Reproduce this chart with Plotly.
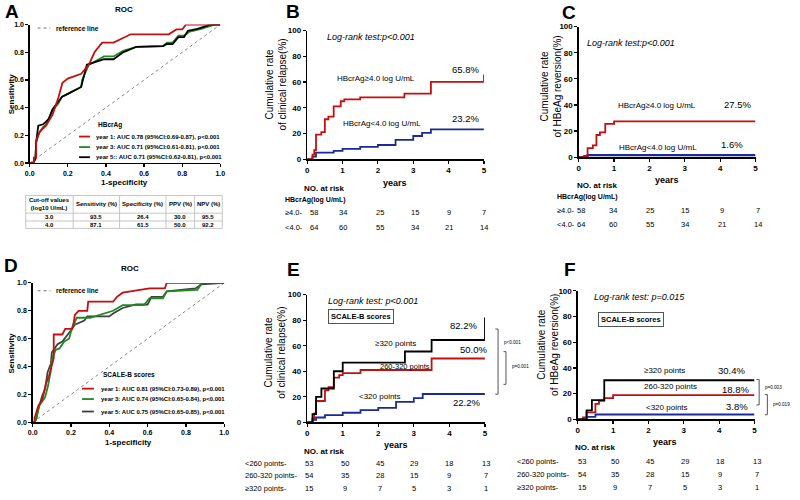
import plotly.graph_objects as go

W, H = 800, 500
FONT = "Arial, Liberation Sans, Helvetica, sans-serif"
RED = "#c01010"
GREEN = "#1f8a1f"
BLUE = "#1c2a98"
DARK = "#404040"

# ---------------- DATA ----------------
# Panel A: ROC (HBcrAg)
A_y1_fpr = [0, 0.017, 0.022, 0.022, 0.034, 0.034, 0.05, 0.07, 0.086, 0.12, 0.15, 0.172, 0.2, 0.27, 0.31, 0.34, 0.38, 0.44, 0.53, 0.73, 0.77, 0.80, 0.82, 1.0]
A_y1_sen = [0, 0, 0, 0.04, 0.04, 0.16, 0.22, 0.25, 0.27, 0.35, 0.47, 0.58, 0.61, 0.645, 0.71, 0.80, 0.87, 0.87, 0.93, 0.93, 0.965, 0.965, 1.0, 1.0]
A_y3_fpr = [0, 0.017, 0.03, 0.034, 0.05, 0.07, 0.086, 0.1, 0.12, 0.15, 0.17, 0.2, 0.27, 0.275, 0.31, 0.39, 0.44, 0.49, 0.56, 0.7, 0.72, 0.75, 0.78, 0.81, 0.84, 0.9, 0.97, 1.0]
A_y3_sen = [0, 0, 0.03, 0.15, 0.22, 0.26, 0.28, 0.32, 0.38, 0.43, 0.48, 0.5, 0.55, 0.6, 0.71, 0.77, 0.77, 0.81, 0.84, 0.845, 0.87, 0.87, 0.92, 0.92, 0.95, 0.97, 1.0, 1.0]
A_y5_fpr = [0, 0.017, 0.03, 0.034, 0.045, 0.07, 0.086, 0.1, 0.12, 0.15, 0.17, 0.2, 0.26, 0.27, 0.3, 0.39, 0.44, 0.49, 0.56, 0.7, 0.72, 0.75, 0.78, 0.81, 0.83, 0.88, 0.95, 1.0]
A_y5_sen = [0, 0, 0.03, 0.15, 0.27, 0.28, 0.30, 0.32, 0.39, 0.44, 0.48, 0.5, 0.54, 0.55, 0.71, 0.75, 0.75, 0.80, 0.84, 0.845, 0.86, 0.86, 0.91, 0.91, 0.955, 0.97, 1.0, 1.0]
A_legend = ["year 1: AUC 0.78 (95%CI:0.69-0.87), p<0.001",
            "year 3: AUC 0.71 (95%CI:0.61-0.81), p<0.001",
            "year 5:: AUC 0.71 (95%CI:0.62-0.81), p<0.001"]

# Table under A
table_header = ["Cut-off values<br>(log10 U/mL)", "Sensitivity (%)", "Specificity (%)", "PPV (%)", "NPV (%)"]
table_rows = [["3.0", "93.5", "26.4", "30.0", "95.5"],
              ["4.0", "87.1", "61.5", "50.0", "92.2"]]

# Panel B: clinical relapse by HBcrAg
B_hi_t = [0, 0.15, 0.2, 0.25, 0.4, 0.5, 0.6, 0.75, 0.95, 1.05, 1.5, 2.75, 3.5, 5]
B_hi_y = [0, 3.5, 7, 19, 21, 31, 33, 41, 45, 46.5, 48, 51, 60, 65.8]
B_lo_t = [0, 0.15, 0.25, 0.75, 1.0, 1.5, 2.0, 2.5, 3.0, 3.25, 3.5, 5]
B_lo_y = [0, 2, 5, 6.5, 8, 9.5, 11, 15, 18, 20.5, 23.2, 23.2]

# Panel C: HBeAg reversion by HBcrAg
C_hi_t = [0, 0.15, 0.25, 0.4, 0.5, 0.6, 0.75, 1.0, 5]
C_hi_y = [0, 1, 7, 9, 17, 19, 25.5, 27.5, 27.5]
C_lo_t = [0, 0.25, 5]
C_lo_y = [0, 1.6, 1.6]

risk_groups_BC = ["\u22654.0-", "<4.0-"]
risk_BC_hi = [58, 34, 25, 15, 9, 7]
risk_BC_lo = [64, 60, 55, 34, 21, 14]

# Panel D: ROC (SCALE-B)
D_y1_fpr = [0, 0.01, 0.01, 0.03, 0.05, 0.06, 0.07, 0.085, 0.1, 0.11, 0.11, 0.155, 0.17, 0.205, 0.215, 0.22, 0.24, 0.285, 0.29, 0.42, 0.44, 0.47, 0.61, 0.69, 0.70, 1.0]
D_y1_sen = [0, 0, 0.03, 0.12, 0.16, 0.22, 0.28, 0.33, 0.40, 0.46, 0.63, 0.63, 0.67, 0.67, 0.72, 0.77, 0.80, 0.80, 0.865, 0.865, 0.90, 0.93, 0.96, 0.96, 1.0, 1.0]
D_y3_fpr = [0, 0.01, 0.02, 0.035, 0.05, 0.065, 0.08, 0.095, 0.10, 0.12, 0.14, 0.165, 0.19, 0.2, 0.215, 0.23, 0.30, 0.42, 0.47, 0.58, 0.61, 0.68, 0.70, 0.86, 0.88, 0.89, 1.0]
D_y3_sen = [0, 0, 0.03, 0.12, 0.15, 0.18, 0.26, 0.37, 0.45, 0.52, 0.53, 0.58, 0.60, 0.65, 0.70, 0.75, 0.75, 0.80, 0.84, 0.84, 0.89, 0.89, 0.94, 0.95, 0.99, 1.0, 1.0]
D_y5_fpr = [0, 0.01, 0.02, 0.026, 0.05, 0.065, 0.078, 0.095, 0.10, 0.13, 0.155, 0.18, 0.2, 0.22, 0.27, 0.285, 0.40, 0.42, 0.47, 0.54, 0.60, 0.62, 0.68, 0.70, 0.85, 0.88, 1.0]
D_y5_sen = [0, 0, 0.03, 0.08, 0.19, 0.24, 0.36, 0.42, 0.50, 0.56, 0.58, 0.62, 0.66, 0.70, 0.73, 0.76, 0.76, 0.78, 0.82, 0.845, 0.845, 0.90, 0.90, 0.94, 0.96, 0.99, 1.0]
D_legend = ["year 1: AUC 0.81 (95%CI:0.73-0.89), p<0.001",
            "year 3: AUC 0.74 (95%CI:0.65-0.84), p<0.001",
            "year 5: AUC 0.75 (95%CI:0.65-0.85), p<0.001"]

# Panel E: clinical relapse by SCALE-B
E_hi_t = [0, 0.15, 0.25, 0.4, 0.75, 1.0, 2.75, 3.5, 5]
E_hi_y = [0, 6.5, 20, 26.5, 40, 46.7, 55.5, 64.5, 82.2]
E_mid_t = [0, 0.15, 0.2, 0.25, 0.5, 0.6, 0.75, 0.9, 1.0, 1.5, 3.5, 5]
E_mid_y = [0, 3, 7, 16.7, 25, 27.5, 35, 37, 38.5, 41, 50, 50]
E_lo_t = [0, 0.15, 0.25, 0.5, 1.0, 1.5, 2.0, 2.5, 3.0, 3.25, 5]
E_lo_y = [0, 2, 3.8, 5.7, 7.5, 9.5, 11.3, 16, 19, 22.2, 22.2]

# Panel F: HBeAg reversion by SCALE-B
F_hi_t = [0, 0.25, 0.4, 0.75, 5]
F_hi_y = [0, 7, 15, 30.4, 30.4]
F_mid_t = [0, 0.15, 0.25, 0.5, 0.6, 0.75, 1.0, 5]
F_mid_y = [0, 1.5, 5.5, 12, 14.5, 16.5, 18.8, 18.8]
F_lo_t = [0, 0.25, 0.5, 5]
F_lo_y = [0, 2, 3.8, 3.8]

risk_groups_EF = ["<260 points-", "260-320 points-", "\u2265320 points-"]
risk_EF = [[53, 50, 45, 29, 18, 13],
           [54, 35, 28, 15, 9, 7],
           [15, 9, 7, 5, 3, 1]]

# ---------------- FIGURE ----------------
fig = go.Figure()
ann = []
shapes = []


def PX(x):
    return x / W


def PY(y):
    return 1 - y / H


def T(x, y, text, size=8, bold=False, italic=False, xanchor="center", yanchor="middle",
      angle=0, color="black", **kw):
    if bold:
        text = "<b>" + text + "</b>"
    if italic:
        text = "<i>" + text + "</i>"
    d = dict(x=PX(x), y=PY(y), xref="paper", yref="paper", text=text, showarrow=False,
             xanchor=xanchor, yanchor=yanchor, textangle=angle,
             font=dict(family=FONT, size=size, color=color))
    d.update(kw)
    ann.append(d)


def L(x0, y0, x1, y1, color="black", width=1, dash="solid"):
    shapes.append(dict(type="line", xref="paper", yref="paper",
                       x0=PX(x0), y0=PY(y0), x1=PX(x1), y1=PY(y1),
                       line=dict(color=color, width=width, dash=dash)))


def line(x, y, ax, color, width=1.8, shape="linear", dash="solid"):
    fig.add_trace(go.Scatter(x=x, y=y, xaxis="x" + ax, yaxis="y" + ax, mode="lines",
                             line=dict(color=color, width=width, shape=shape, dash=dash),
                             cliponaxis=False, showlegend=False, hoverinfo="skip"))


common = dict(showgrid=False, zeroline=False, showline=True, linecolor="black",
              linewidth=1.4, ticks="outside", ticklen=3, tickwidth=1.2, tickcolor="black",
              fixedrange=True)

layout_axes = {}


def roc_axes(n, x0, x1, y0, y1):
    xs = "" if n == 1 else str(n)
    tv = [0, 0.2, 0.4, 0.6, 0.8, 1.0]
    tt = ["0.0", "0.2", "0.4", "0.6", "0.8", "1.0"]
    tf = dict(family=FONT, size=7, color="black", weight="bold")
    layout_axes["xaxis" + xs] = dict(domain=[PX(x0), PX(x1)], anchor="y" + xs, range=[0, 1],
                                     tickvals=tv, ticktext=tt, tickfont=tf, **common)
    layout_axes["yaxis" + xs] = dict(domain=[PY(y1), PY(y0)], anchor="x" + xs, range=[0, 1],
                                     tickvals=tv, ticktext=tt, tickfont=tf, **common)


def km_axes(n, x0, x1, y0, y1):
    xs = str(n)
    tf = dict(family=FONT, size=8, color="black", weight="bold")
    layout_axes["xaxis" + xs] = dict(domain=[PX(x0), PX(x1)], anchor="y" + xs, range=[0, 5],
                                     tickvals=[0, 1, 2, 3, 4, 5], tickfont=tf, **common)
    layout_axes["yaxis" + xs] = dict(domain=[PY(y1), PY(y0)], anchor="x" + xs, range=[0, 100],
                                     tickvals=[0, 20, 40, 60, 80, 100], tickfont=tf, **common)


roc_axes(1, 25, 218, 21, 162)
km_axes(2, 306, 485, 27, 158)
km_axes(3, 581, 760, 23, 156)
roc_axes(4, 28, 222, 284, 426)
km_axes(5, 306, 486, 296, 426)
km_axes(6, 580, 759, 292, 423)

# ---- Panel A ----
line([0, 1], [0, 1], "", "#888888", width=1, dash="dot")
line(A_y3_fpr, A_y3_sen, "", GREEN)
line(A_y5_fpr, A_y5_sen, "", "black")
line(A_y1_fpr, A_y1_sen, "", RED)
T(7.5, 8, "A", size=19, bold=True)
T(121, 6, "ROC", size=8, bold=True)
T(121, 182, "1-specificity", size=8, bold=True)
T(6, 91, "Sensitivity", size=8, bold=True, angle=-90)
L(33, 24.5, 46, 24.5, color="#777777", width=1, dash="dot")
T(50, 24.5, "reference line", size=6.5, bold=True, xanchor="left")
T(106, 123, "HBcrAg", size=6.5, bold=True)
for i, (c, yy) in enumerate(zip([RED, GREEN, "black"], [135, 145.7, 156])):
    L(75, yy, 86, yy, color=c, width=1.8)
    T(90, yy, A_legend[i], size=6, bold=True, xanchor="left")

# table
col_edges = [21, 69, 116, 163, 192, 220]
row_lines = [195, 213, 221, 228.5]
for yy in row_lines:
    L(21, yy, 220, yy, color="#b8b8b8", width=0.8)
for xx in col_edges:
    L(xx, 195, xx, 228.5, color="#b8b8b8", width=0.8)
for j, h in enumerate(table_header):
    cx = (col_edges[j] + col_edges[j + 1]) / 2
    T(cx, 204, h, size=6, bold=True)
for r, (row, yy) in enumerate(zip(table_rows, [217, 225])):
    for j, v in enumerate(row):
        cx = (col_edges[j] + col_edges[j + 1]) / 2
        T(cx, yy, v, size=6, bold=True)

# ---- Panel B ----
line(B_lo_t, B_lo_y, "2", BLUE, shape="hv")
line(B_hi_t, B_hi_y, "2", RED, shape="hv")
T(292, 8, "B", size=19, bold=True)
T(273.5, 82, "Cumulative rate<br>of clinical relapse(%)", size=10, angle=-90)
T(370.7, 33.3, "Log-rank test:p<0.001", size=9, italic=True)
T(376, 76, "HBcrAg\u22654.0 log U/mL", size=8)
T(466, 67, "65.8%", size=9.5)
T(382, 121.7, "HBcrAg<4.0 log U/mL", size=8)
T(466, 117, "23.2%", size=9.5)
T(395, 182, "years", size=9, bold=True)
T(324, 188, "NO. at risk", size=8, bold=True)
T(282, 200, "HBcrAg(log U/mL)", size=7, bold=True, xanchor="left")
B_cols = [313, 342, 380, 415, 450, 485]
for grp, vals, yy in zip(risk_groups_BC, [risk_BC_hi, risk_BC_lo], [212.3, 227.7]):
    T(282, yy, grp, size=7.5, xanchor="left")
    for xv, v in zip(B_cols, vals):
        T(xv, yy, str(v), size=7.5)

# ---- Panel C ----
line(C_lo_t, C_lo_y, "3", BLUE, width=2.2, shape="hv")
line(C_hi_t, C_hi_y, "3", RED, shape="hv")
T(571, 9, "C", size=19, bold=True)
T(553, 84, "Cumulative rate<br>of HBeAg reversion(%)", size=10, angle=-90)
T(634, 40, "Log-rank test:p<0.001", size=9, italic=True)
T(660, 103.3, "HBcrAg\u22654.0 log U/mL", size=8)
T(741.7, 102.7, "27.5%", size=9.5)
T(661.7, 145.7, "HBcrAg<4.0 log U/mL", size=8)
T(736.7, 143.3, "1.6%", size=9.5)
T(670, 179, "years", size=9, bold=True)
T(600, 185, "NO. at risk", size=8, bold=True)
T(557, 197, "HBcrAg(log U/mL)", size=7, bold=True, xanchor="left")
C_cols = [583, 616, 653, 689, 726, 763]
for grp, vals, yy in zip(risk_groups_BC, [risk_BC_hi, risk_BC_lo], [210.7, 224.3]):
    T(557, yy, grp, size=7.5, xanchor="left")
    for xv, v in zip(C_cols, vals):
        T(xv, yy, str(v), size=7.5)

# ---- Panel D ----
line([0, 1], [0, 1], "4", "#888888", width=1, dash="dot")
line(D_y5_fpr, D_y5_sen, "4", DARK)
line(D_y3_fpr, D_y3_sen, "4", GREEN)
line(D_y1_fpr, D_y1_sen, "4", RED)
T(6.5, 266, "D", size=19, bold=True)
T(127, 269, "ROC", size=8, bold=True)
T(125, 447, "1-specificity", size=8, bold=True)
T(7, 355, "Sensitivity", size=8, bold=True, angle=-90)
L(33, 292, 46, 292, color="#777777", width=1, dash="dot")
T(50, 292, "reference line", size=6.5, bold=True, xanchor="left")
T(126, 377.3, "SCALE-B scores", size=6.5, bold=True)
for i, (c, yy) in enumerate(zip([RED, GREEN, DARK], [391.7, 402.3, 415])):
    L(78, yy, 90, yy, color=c, width=1.8)
    T(95, yy, D_legend[i], size=6, bold=True, xanchor="left")

# ---- Panel E ----
line(E_lo_t, E_lo_y, "5", BLUE, shape="hv")
line(E_mid_t, E_mid_y, "5", RED, shape="hv")
line(E_hi_t, E_hi_y, "5", "black", shape="hv")
T(292, 270, "E", size=19, bold=True)
T(273.5, 355, "Cumulative rate<br>of clinical relapse(%)", size=10, angle=-90)
T(372.3, 302.7, "Log-rank test: p<0.001", size=9, italic=True)
T(361, 318.5, "SCALE-B scores", size=7.5, bold=True, bordercolor="#555555", borderwidth=1, borderpad=2)
T(464, 327.7, "82.2%", size=9.5)
T(395, 345.7, "\u2265320 points", size=8)
T(474, 351.7, "50.0%", size=9.5)
T(405, 369, "260-320 points", size=7.5)
T(379.3, 400, "<320 points", size=8)
T(467.3, 405.7, "22.2%", size=9.5)
# brackets
L(499.3, 331, 499.3, 397.3, color="#555555", width=1)
L(496.5, 331, 499.3, 331, color="#555555", width=1)
L(496.5, 397.3, 499.3, 397.3, color="#555555", width=1)
T(503, 345, "p<0.001", size=4.6, xanchor="left")
L(507.3, 354, 507.3, 387.3, color="#555555", width=1)
L(504.8, 354, 507.3, 354, color="#555555", width=1)
L(504.8, 387.3, 507.3, 387.3, color="#555555", width=1)
T(511.5, 369, "p=0.001", size=4.6, xanchor="left")
T(396, 449, "years", size=9, bold=True)
T(324, 456, "NO. at risk", size=8, bold=True)
E_cols = [308, 344, 380, 414, 450, 487]
for grp, vals, yy in zip(risk_groups_EF, risk_EF, [467.5, 480.5, 493.5]):
    T(241, yy, grp, size=7.5, xanchor="left")
    for xv, v in zip(E_cols, vals):
        T(xv, yy, str(v), size=7.5)

# ---- Panel F ----
line(F_lo_t, F_lo_y, "6", BLUE, shape="hv")
line(F_mid_t, F_mid_y, "6", RED, shape="hv")
line(F_hi_t, F_hi_y, "6", "black", shape="hv")
T(572, 270, "F", size=19, bold=True)
T(550, 347, "Cumulative rate<br>of HBeAg reversion(%)", size=10, angle=-90)
T(642.3, 298.3, "Log-rank test: p=0.015", size=9, italic=True)
T(634, 321, "SCALE-B scores", size=7.5, bold=True, bordercolor="#555555", borderwidth=1, borderpad=2)
T(668.3, 373.3, "\u2265320 points", size=8)
T(736, 373.3, "30.4%", size=9.5)
T(674.3, 390, "260-320 points", size=8)
T(740, 392.3, "18.8%", size=9.5)
T(670, 411, "<320 points", size=8)
T(741.7, 410, "3.8%", size=9.5)
L(763.7, 382.3, 763.7, 408.3, color="#555555", width=1)
L(761, 382.3, 763.7, 382.3, color="#555555", width=1)
L(761, 408.3, 763.7, 408.3, color="#555555", width=1)
T(767.5, 390.7, "p=0.003", size=4.6, xanchor="left")
L(772, 397.7, 772, 418.3, color="#555555", width=1)
L(769.5, 397.7, 772, 397.7, color="#555555", width=1)
L(769.5, 418.3, 772, 418.3, color="#555555", width=1)
T(776, 408.3, "p=0.019", size=4.6, xanchor="left")
T(668, 446, "years", size=9, bold=True)
T(598, 452, "NO. at risk", size=8, bold=True)
F_cols = [584, 618, 653, 689, 724, 762]
for grp, vals, yy in zip(risk_groups_EF, risk_EF, [465.5, 479, 492]):
    T(516, yy, grp, size=7.5, xanchor="left")
    for xv, v in zip(F_cols, vals):
        T(xv, yy, str(v), size=7.5)

fig.update_layout(width=W, height=H, margin=dict(l=0, r=0, t=0, b=0),
                  paper_bgcolor="white", plot_bgcolor="white",
                  font=dict(family=FONT, color="black"),
                  showlegend=False, annotations=ann, shapes=shapes, **layout_axes)

fig.write_html("out.html",
               config={"displayModeBar": False, "staticPlot": True},
               post_script="document.body.style.margin='0';document.body.style.padding='0';")
